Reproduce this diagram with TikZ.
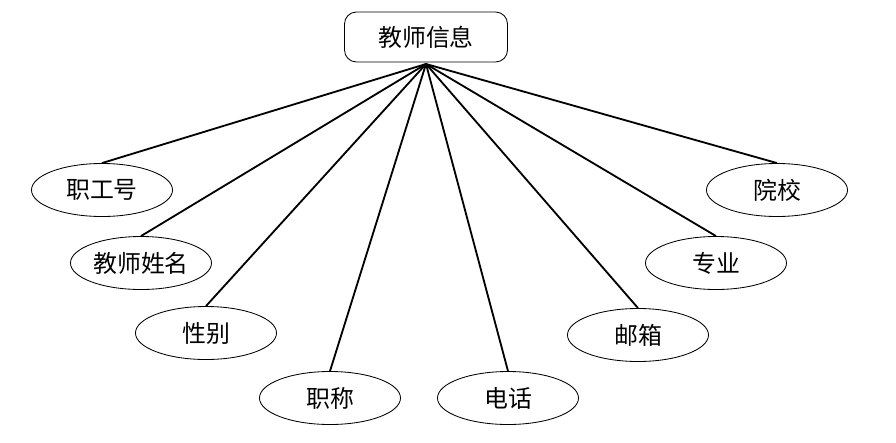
\documentclass[tikz,border=0pt]{standalone}
\usepackage{fontspec}
\setmainfont{Noto Sans CJK SC}
\usetikzlibrary{shapes.geometric}
\begin{document}
\begin{tikzpicture}[x=0.025cm,y=-0.025cm,
    entity/.style={draw,rounded corners=0.3cm,line width=0.6pt,minimum width=4.075cm,minimum height=1.25cm,inner sep=0pt,font=\fontsize{17}{17}\selectfont},
    attr/.style={draw,ellipse,line width=0.6pt,minimum width=3.525cm,minimum height=1.325cm,inner sep=0pt,font=\fontsize{17}{17}\selectfont},
    link/.style={line width=1.3pt}]
            \useasboundingbox (0,0) rectangle (896,442);
            \node[entity] (teacher) at (426,37) {教师信息};
            \coordinate (hub) at (426,64);
            \node[attr] (id) at (102,190) {职工号};
            \node[attr] (name) at (141,263) {教师姓名};
            \node[attr] (sex) at (206,333) {性别};
            \node[attr] (title) at (330,398) {职称};
            \node[attr] (phone) at (508,398) {电话};
            \node[attr] (mail) at (638,335) {邮箱};
            \node[attr] (major) at (716,263) {专业};
            \node[attr] (school) at (777,190) {院校};
            \foreach \n in {id,name,sex,title,phone,mail,major,school}
                \draw[link] (hub) -- (\n.north);
        \end{tikzpicture}
\end{document}
